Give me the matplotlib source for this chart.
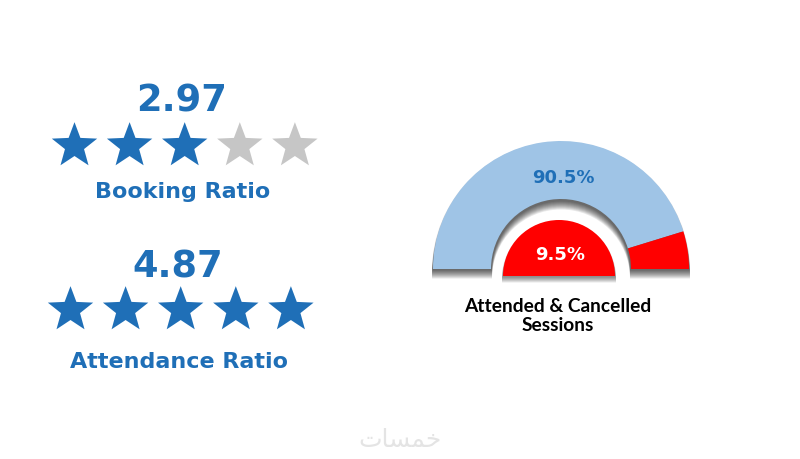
import numpy as np
import matplotlib.pyplot as plt
from matplotlib.patches import Wedge
from matplotlib.path import Path

# ratings shown as stars
ratings = [2.97, 4.87]
rating_labels = ['Booking Ratio', 'Attendance Ratio']
n_stars = 5

# gauge data
gauge_labels = ['Attended', 'Cancelled']
gauge_values = [90.5, 9.5]
gauge_title = ['Attended & Cancelled', 'Sessions']

blue = '#1f6fb7'
grey = '#c6c6c6'
light_blue = '#9fc4e6'
red = '#ff0000'

W, H = 800, 460
fig = plt.figure(figsize=(8, 4.6), dpi=100)
ax = fig.add_axes([0, 0, 1, 1])
ax.set_xlim(0, W)
ax.set_ylim(H, 0)
ax.axis('off')

star = Path.unit_regular_star(5, 0.42)

# star rows
rows = [dict(x0=74.5, y=147, num_y=112, lab_y=198),
        dict(x0=70.5, y=311, num_y=278, lab_y=368)]
for r, lab, row in zip(ratings, rating_labels, rows):
    xs = row['x0'] + 55.1 * np.arange(n_stars)
    filled = int(round(r))
    cols = [blue if i < filled else grey for i in range(n_stars)]
    ax.scatter(xs, [row['y']] * n_stars, s=1180, marker=star, c=cols, linewidths=0)
    ax.text(xs.mean() - 3, row['num_y'], f'{r:.2f}', ha='center', va='baseline',
            fontsize=26.5, fontweight='bold', color=blue, family='DejaVu Sans')
    ax.text(xs.mean() - 2, row['lab_y'], lab, ha='center', va='baseline',
            fontsize=16, fontweight='bold', color=blue, family='DejaVu Sans')

# gauge
cx, cy = 561, 270
R, r_in = 128, 70
rc_y, rc = 277, 56
total = sum(gauge_values)
att_end = 180 + 180 * gauge_values[0] / total


def soft_shadow(draw, steps=9):
    for k in range(steps):
        draw(1.5 + k * 1.0, 0.09)


soft_shadow(lambda d, a: ax.add_patch(Wedge((cx, cy + d), R + 1, 180, 360, width=R - r_in + 2,
                                            color='black', alpha=a, lw=0)))
soft_shadow(lambda d, a: ax.add_patch(Wedge((559, rc_y + d), rc + 1, 180, 360,
                                            color='black', alpha=a, lw=0)), steps=6)

ax.add_patch(Wedge((cx, cy), R, 180, att_end, width=R - r_in, color=light_blue, lw=0))
ax.add_patch(Wedge((cx, cy), R, att_end, 360, width=R - r_in, color=red, lw=0))
ax.add_patch(Wedge((559, rc_y), rc, 180, 360, color=red, lw=0))

ax.text(563, 183, f'{gauge_values[0]}%', ha='center', va='baseline',
        fontsize=13, fontweight='bold', color=blue, family='DejaVu Sans')
ax.text(560, 260, f'{gauge_values[1]}%', ha='center', va='baseline',
        fontsize=13, fontweight='bold', color='white', family='DejaVu Sans')
ax.text(558, 312, gauge_title[0], ha='center', va='baseline',
        fontsize=13.8, fontweight='bold', color='black', family=['Lato', 'DejaVu Sans'])
ax.text(558, 331, gauge_title[1], ha='center', va='baseline',
        fontsize=13.8, fontweight='bold', color='black', family=['Lato', 'DejaVu Sans'])

# watermark (pre-shaped Arabic glyphs)
ax.text(400, 447, '\uFE95\uFE8E\uFEB4\uFEE4\uFEA7', ha='center', va='baseline',
        fontsize=18, color='#e4e4e4', family='DejaVu Sans')

fig.savefig('out.png', dpi=100, facecolor='white')
